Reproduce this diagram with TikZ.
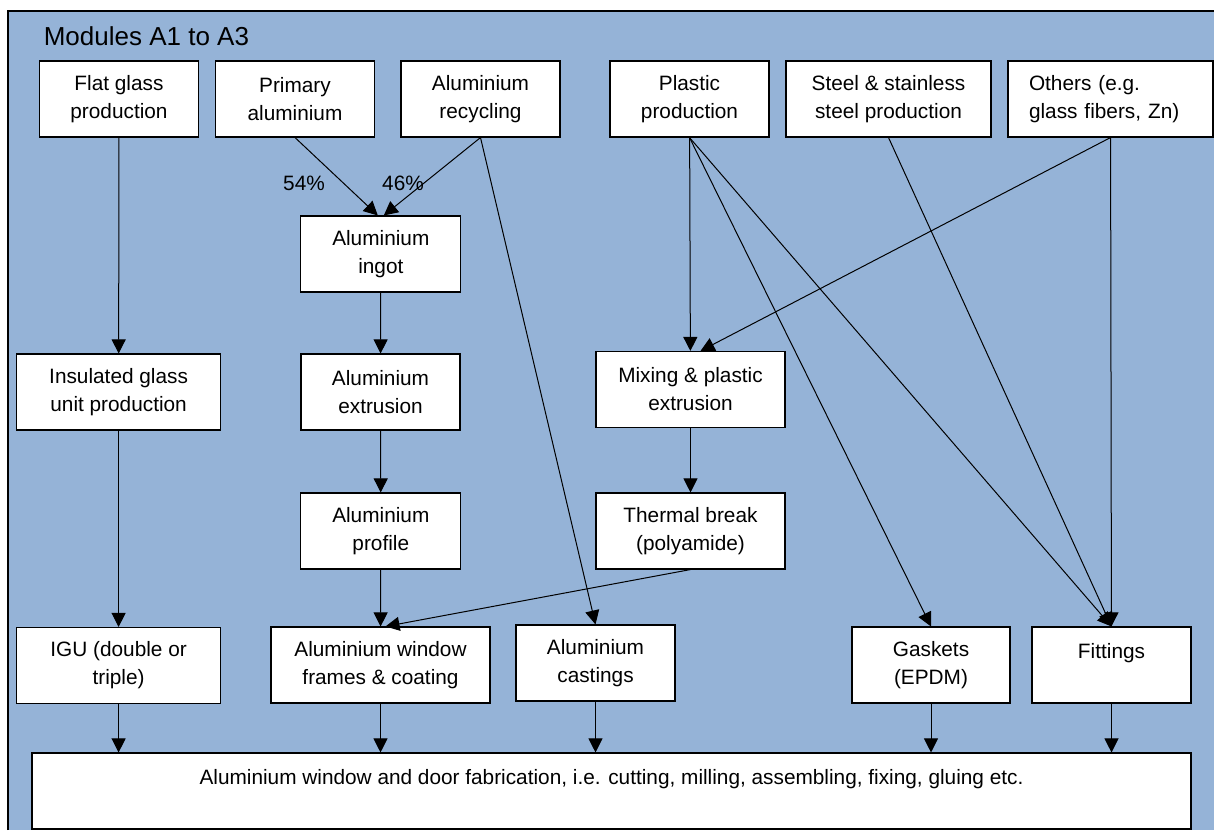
\documentclass[tikz,border=0pt]{standalone}
\usepackage{fontspec}
\setmainfont{Liberation Sans}
\usetikzlibrary{arrows.meta}
\definecolor{panelblue}{RGB}{149,179,215}

\begin{document}
\begin{tikzpicture}[x=1pt, y=-1pt, line width=1pt,
    font=\fontsize{20.8}{28}\selectfont,
    proc/.style={draw, fill=white, line width=1.1pt, align=center,
      inner sep=0pt, minimum height=76pt},
    >={Triangle[length=14pt,width=14pt]}]
      \useasboundingbox (0,0) rectangle (1214,830);
      \fill[panelblue] (8,11) rectangle (1214,830);
      \draw[line width=2pt] (8,830) -- (8,11) -- (1214,11);
      \node[anchor=base west, font=\fontsize{26}{30}\selectfont] (title) at (40,45) {Modules A1 to A3};

      \node[proc, minimum width=159pt] (flat) at (119,99) {Flat glass\\production};
      \node[proc, minimum width=159pt] (prim) at (295,99) {Primary\\aluminium};
      \node[proc, minimum width=159pt] (recyc) at (480.5,99) {Aluminium\\recycling};
      \node[proc, minimum width=159pt] (plast) at (689.5,99) {Plastic\\production};
      \node[proc, minimum width=205pt] (steel) at (888.5,99) {Steel \& stainless\\steel production};
      \node[proc, minimum width=205pt, text width=163pt, align=left] (other) at (1110.5,99) {Others (e.g.\\glass fibers, Zn)};

      \node[proc, minimum width=160pt] (ingot) at (380.8,254) {Aluminium\\ingot};
      \node (p54) at (304,183) {54\%};
      \node (p46) at (403,183) {46\%};

      \node[proc, minimum width=204pt] (igp) at (118.6,392) {Insulated glass\\unit production};
      \node[proc, minimum width=159pt] (extr) at (380.5,392) {Aluminium\\extrusion};
      \node[proc, minimum width=189pt] (mix) at (690.5,389.5) {Mixing \& plastic\\extrusion};
      \node[proc, minimum width=160pt] (prof) at (380.8,531) {Aluminium\\profile};
      \node[proc, minimum width=189pt] (therm) at (690.5,531) {Thermal break\\(polyamide)};

      \node[proc, minimum width=204pt] (igu) at (118.6,665.5) {IGU (double or\\triple)};
      \node[proc, minimum width=219pt] (frame) at (380.5,665) {Aluminium window\\frames \& coating};
      \node[proc, minimum width=159pt] (cast) at (595.5,663) {Aluminium\\castings};
      \node[proc, minimum width=158pt] (gask) at (931,665) {Gaskets\\(EPDM)};
      \node[proc, minimum width=159pt] (fitt) at (1111.5,665) {Fittings\\\mbox{}};

      \node[proc, minimum width=1159pt] (fab) at (611.5,791) {Aluminium window and door fabrication, i.e. cutting, milling, assembling, fixing, gluing etc.\\\mbox{}};

      \path[->]
        (flat) edge (igp)
        (igp) edge (igu)
        (prim.south) edge ([xshift=-3pt]ingot.north)
        (recyc.south) edge ([xshift=3pt]ingot.north)
        (recyc.south) edge (cast.north)
        (ingot) edge (extr)
        (extr) edge (prof)
        (prof) edge (frame)
        (therm.south) edge ([xshift=5pt]frame.north)
        (plast) edge (mix)
        (other.south) edge ([xshift=10pt]mix.north)
        (mix) edge (therm)
        (plast.south) edge (gask.north)
        (plast.south) edge (fitt.north)
        (steel.south) edge (fitt.north)
        (other) edge (fitt);

      \path[->]
        (igu.south) edge (igu.south |- fab.north)
        (frame.south) edge (frame.south |- fab.north)
        (cast.south) edge (cast.south |- fab.north)
        (gask.south) edge (gask.south |- fab.north)
        (fitt.south) edge (fitt.south |- fab.north);
    \end{tikzpicture}
\end{document}
